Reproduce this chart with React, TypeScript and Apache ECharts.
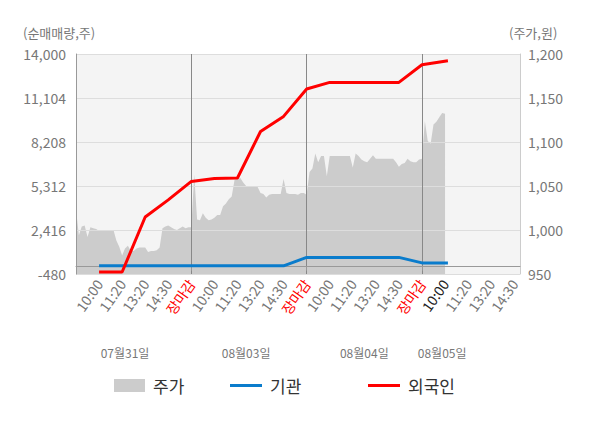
import React, { useEffect, useRef } from 'react';
import * as echarts from 'echarts';

// ---- data ----
const days = ['07월31일', '08월03일', '08월04일', '08월05일'];
const timeLabels = ['10:00', '11:20', '13:20', '14:30', '장마감'];
const dateLabelSlots = [17, 59, 100, 127];

// 주가 (원), one value per slot from the first slot
const priceValues = [
  1023, 994, 1004, 1005, 992, 1003, 1002, 1001, 999, 1000,
  1000, 1000, 1000, 1000, 988, 981, 971, 979, 982, 976,
  976, 979, 980, 980, 980, 975, 976, 976, 977, 980,
  1002, 1004, 1005, 1003, 1001, 1000, 1002, 1004, 1002, 1003,
  1003, 1063, 1012, 1011, 1019, 1014, 1011, 1012, 1014, 1017,
  1017, 1027, 1030, 1035, 1038, 1057, 1058, 1059, 1054, 1050,
  1050, 1050, 1050, 1049, 1042, 1041, 1037, 1040, 1041, 1041,
  1041, 1041, 1058, 1042, 1041, 1041, 1041, 1040, 1042, 1042,
  1040, 1066, 1070, 1087, 1077, 1084, 1084, 1061, 1084, 1084,
  1084, 1084, 1084, 1084, 1084, 1084, 1071, 1087, 1084, 1080,
  1078, 1077, 1081, 1085, 1081, 1081, 1081, 1081, 1081, 1081,
  1081, 1077, 1072, 1075, 1076, 1081, 1078, 1077, 1077, 1080,
  1081, 1124, 1101, 1098, 1120, 1123, 1128, 1133, 1132,
];

// 순매매량 (주): slots where the flow lines have a value
const flowSlots = [8, 16, 24, 32, 40, 48, 56, 64, 72, 80, 88, 96, 104, 112, 120, 129];
const foreignValues = [-350, -350, 3272, 4400, 5615, 5800, 5840, 8900, 9893, 11697, 12131, 12131, 12131, 12131, 13296, 13560];
const institutionValues = [60, 60, 60, 60, 60, 60, 60, 60, 60, 613, 613, 613, 613, 613, 250, 250];

const leftMin = -480;
const leftMax = 14000;
const leftStep = 2896;
const rightMin = 950;
const rightMax = 1200;
const rightStep = 50;

const SLOTS_PER_DAY = 40;
const LABEL_EVERY = 8;
const TOTAL_SLOTS = 155;

const FONT = "'Noto Sans CJK KR', 'Noto Sans', sans-serif";
const BLUE = '#0a7ccc';
const RED = '#ff0000';
const GRAY_AREA = '#cccccc';

function slotInDay(i: number) {
  if (i === 0) return 0;
  return ((i - 1) % SLOTS_PER_DAY) + 1;
}
function dayOf(i: number) {
  if (i === 0) return 0;
  return Math.floor((i - 1) / SLOTS_PER_DAY);
}
function timeLabel(i: number) {
  const s = slotInDay(i);
  if (s === 0 || s % LABEL_EVERY !== 0) return '';
  return timeLabels[s / LABEL_EVERY - 1];
}

const categories: string[] = [];
for (let i = 0; i < TOTAL_SLOTS; i++) categories.push(`${dayOf(i)}-${slotInDay(i)}`);

function spread(slots: number[], values: number[]) {
  const arr: (number | null)[] = new Array(TOTAL_SLOTS).fill(null);
  slots.forEach((s, k) => {
    arr[s] = values[k];
  });
  return arr;
}

function fmt(v: number) {
  return Math.round(v).toLocaleString('en-US');
}

const legendText = { fontSize: 17, color: '#333', fontFamily: FONT, padding: [0, 0, 0, 3] };

export default function App() {
  const ref = useRef<HTMLDivElement>(null);

  useEffect(() => {
    if (!ref.current) return;
    const chart = echarts.init(ref.current, undefined, { renderer: 'svg' });
    const option: any = {
      animation: false,
      backgroundColor: '#ffffff',
      textStyle: { fontFamily: FONT },
      grid: {
        left: 76,
        right: 80,
        top: 54,
        bottom: 154,
        show: true,
        backgroundColor: '#f4f4f4',
        borderWidth: 0,
      },
      graphic: [
        {
          type: 'text',
          left: 23,
          top: 26,
          style: { text: '(순매매량,주)', fill: '#777', font: `13px ${FONT}` },
        },
        {
          type: 'text',
          left: 509,
          top: 26,
          style: { text: '(주가,원)', fill: '#777', font: `13px ${FONT}` },
        },
      ],
      legend: [
        {
          data: [{ name: '주가', icon: 'rect', itemStyle: { color: GRAY_AREA } }],
          left: 114,
          top: 377,
          padding: 0,
          itemWidth: 31,
          itemHeight: 13,
          selectedMode: false,
          textStyle: legendText,
        },
        {
          data: [{ name: '기관', icon: 'rect', itemStyle: { color: BLUE } }],
          left: 230,
          top: 377,
          padding: 0,
          itemWidth: 32,
          itemHeight: 3,
          selectedMode: false,
          textStyle: legendText,
        },
        {
          data: [{ name: '외국인', icon: 'rect', itemStyle: { color: RED } }],
          left: 368,
          top: 377,
          padding: 0,
          itemWidth: 32,
          itemHeight: 3,
          selectedMode: false,
          textStyle: legendText,
        },
      ],
      xAxis: [
        {
          type: 'category',
          data: categories,
          boundaryGap: false,
          z: 3,
          axisLine: { show: true, lineStyle: { color: '#999', width: 1 } },
          axisTick: {
            show: true,
            interval: (i: number) => i % SLOTS_PER_DAY === 0,
            length: 4,
            lineStyle: { color: '#999' },
          },
          splitLine: {
            show: true,
            interval: (i: number) => i > 0 && i % SLOTS_PER_DAY === 0,
            lineStyle: { color: '#888', width: 1 },
          },
          axisLabel: {
            interval: (i: number) => timeLabel(i) !== '',
            rotate: 55,
            margin: 7,
            fontSize: 14,
            color: '#777',
            fontFamily: FONT,
            formatter: (_v: string, i: number) => {
              const t = timeLabel(i);
              if (t === '장마감') return `{r|${t}}`;
              if (dayOf(i) === days.length - 1 && slotInDay(i) === LABEL_EVERY) return `{n|${t}}`;
              return `{t|${t}}`;
            },
            rich: {
              t: { color: '#777', fontSize: 14, fontFamily: FONT },
              r: { color: RED, fontSize: 14, fontFamily: FONT },
              n: { color: '#222', fontSize: 14, fontFamily: FONT },
            },
          },
        },
        {
          type: 'category',
          data: categories,
          boundaryGap: false,
          position: 'bottom',
          offset: 70,
          axisLine: { show: false },
          axisTick: { show: false },
          splitLine: { show: false },
          axisLabel: {
            interval: (i: number) => dateLabelSlots.indexOf(i) >= 0,
            formatter: (_v: string, i: number) => {
              const k = dateLabelSlots.indexOf(i);
              return k >= 0 ? days[k] : '';
            },
            margin: 2,
            fontSize: 12,
            color: '#777',
            fontFamily: FONT,
          },
        },
      ],
      yAxis: [
        {
          type: 'value',
          position: 'left',
          min: leftMin,
          max: leftMax,
          interval: leftStep,
          z: 3,
          axisLine: { show: true, lineStyle: { color: '#999' } },
          axisTick: { show: false },
          splitLine: { show: true, lineStyle: { color: '#dddddd', width: 1 } },
          axisLabel: {
            margin: 10,
            fontSize: 14,
            color: '#777',
            fontFamily: FONT,
            formatter: (v: number) => fmt(v),
          },
        },
        {
          type: 'value',
          position: 'right',
          min: rightMin,
          max: rightMax,
          interval: rightStep,
          z: 3,
          axisLine: { show: true, lineStyle: { color: '#cccccc' } },
          axisTick: { show: false },
          splitLine: { show: false },
          axisLabel: {
            margin: 8,
            fontSize: 14,
            color: '#777',
            fontFamily: FONT,
            formatter: (v: number) => fmt(v),
          },
        },
      ],
      series: [
        {
          name: '주가',
          type: 'line',
          yAxisIndex: 1,
          data: priceValues,
          symbol: 'none',
          z: 2,
          color: GRAY_AREA,
          itemStyle: { color: GRAY_AREA },
          lineStyle: { width: 0, color: GRAY_AREA },
          areaStyle: { color: GRAY_AREA, opacity: 1, origin: 'start' },
        },
        {
          name: '기관',
          type: 'line',
          yAxisIndex: 0,
          data: spread(flowSlots, institutionValues),
          connectNulls: true,
          symbol: 'none',
          z: 4,
          color: BLUE,
          lineStyle: { width: 3, color: BLUE },
        },
        {
          name: '외국인',
          type: 'line',
          yAxisIndex: 0,
          data: spread(flowSlots, foreignValues),
          connectNulls: true,
          symbol: 'none',
          z: 5,
          color: RED,
          lineStyle: { width: 3, color: RED },
          markLine: {
            silent: true,
            symbol: ['none', 'none'],
            label: { show: false },
            lineStyle: { color: '#999', type: 'solid', width: 1 },
            data: [{ yAxis: 0 }],
            z: 3,
          },
        },
      ],
    };
    chart.setOption(option);
    return () => chart.dispose();
  }, []);

  return (
    <div
      ref={ref}
      style={{ position: 'fixed', left: 0, top: 0, width: 600, height: 428, background: '#fff' }}
    />
  );
}
